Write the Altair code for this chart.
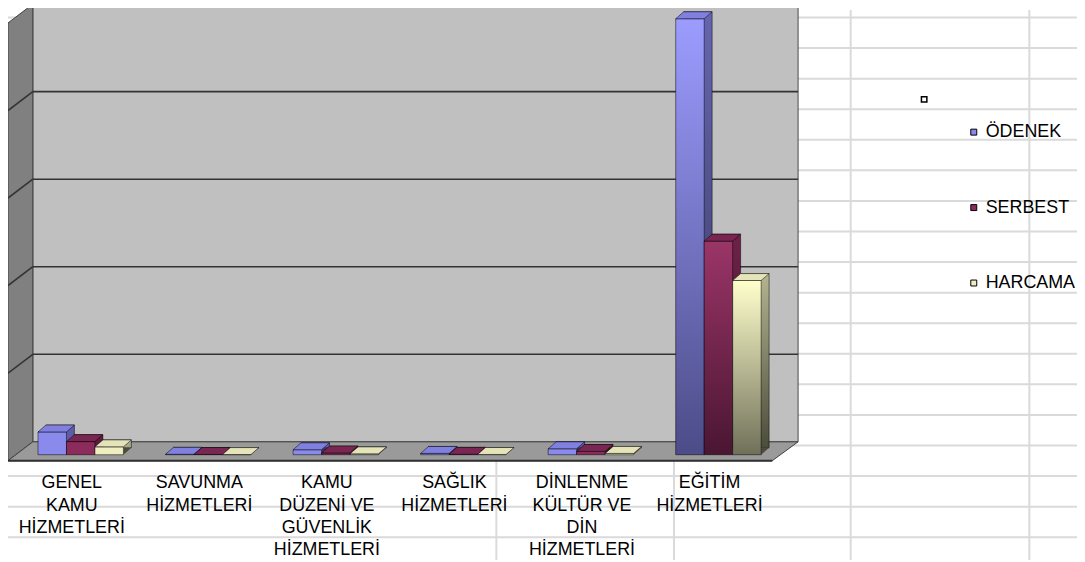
import altair as alt
import pandas as pd

# ---------------- data ----------------
categories = [
    "GENEL KAMU HİZMETLERİ",
    "SAVUNMA HİZMETLERİ",
    "KAMU DÜZENİ VE GÜVENLİK HİZMETLERİ",
    "SAĞLIK HİZMETLERİ",
    "DİNLENME KÜLTÜR VE DİN HİZMETLERİ",
    "EĞİTİM HİZMETLERİ",
]
tick_labels = [
    "GENEL\nKAMU\nHİZMETLERİ",
    "SAVUNMA\nHİZMETLERİ",
    "KAMU\nDÜZENİ VE\nGÜVENLİK\nHİZMETLERİ",
    "SAĞLIK\nHİZMETLERİ",
    "DİNLENME\nKÜLTÜR VE\nDİN\nHİZMETLERİ",
    "EĞİTİM\nHİZMETLERİ",
]
series = ["ÖDENEK", "SERBEST", "HARCAMA"]
odenek = [2.6, 0.05, 0.57, 0.15, 0.68, 49.8]
serbest = [1.5, 0.03, 0.2, 0.05, 0.38, 24.4]
harcama = [0.9, 0.02, 0.1, 0.03, 0.15, 19.9]
wall_gridlines = [10, 20, 30, 40]
y_max = 50
tall_threshold = 10

# ---------------- geometry / style ----------------
W, H = 1077, 554
BACK_L, BACK_R = 25, 796
FRONT_L, FRONT_R = 0, 770
Y_BASE, Y_TOP = 435, -6
DEPTH_Y = 19
BAR_DX, BAR_DY = 8, 7
BAR_SHIFT_X, BAR_SHIFT_Y = -16, 13
LABEL_SHIFT = -25
OUTER_PAD = 0.739
FONT = "Liberation Sans"

n_cat, n_ser = len(categories), len(series)
band = (BACK_R - BACK_L) / n_cat
slot = 1.0 / (n_ser + 2 * OUTER_PAD)          # bar width in category units
bw = band * slot                               # bar width in pixels
S = 20.0
hw = bw / 2
top_path = (f"M{-hw/S:.4f} 0 L{hw/S:.4f} 0 L{(hw+BAR_DX)/S:.4f} {-BAR_DY/S:.4f} "
            f"L{(-hw+BAR_DX)/S:.4f} {-BAR_DY/S:.4f} Z")
tri_path = f"M{hw/S:.4f} {-BAR_DY/S:.4f} L{hw/S:.4f} 0 L{(hw+BAR_DX)/S:.4f} {-BAR_DY/S:.4f} Z"
SYM_SIZE = (2 * S) ** 2

front_solid = {"ÖDENEK": "#8A8AEC", "SERBEST": "#8C2C5C", "HARCAMA": "#EEEEC0"}
front_grad = {"ÖDENEK": ["#9C9CFF", "#4C4C88"], "SERBEST": ["#9B3568", "#4A1632"],
              "HARCAMA": ["#FFFFCC", "#70705A"]}
side_solid = {"ÖDENEK": "#5C5CA8", "SERBEST": "#5E1A3C", "HARCAMA": "#A8A88A"}
side_grad = {"ÖDENEK": ["#6666B0", "#363660"], "SERBEST": ["#6E2248", "#361024"],
             "HARCAMA": ["#B4B490", "#4C4C3C"]}
top_col = {"ÖDENEK": "#8080E0", "SERBEST": "#7A2652", "HARCAMA": "#E4E4B8"}

rows = []
for j, (s, vals) in enumerate(zip(series, [odenek, serbest, harcama])):
    for i, (c, v) in enumerate(zip(categories, vals)):
        xl = i + (OUTER_PAD + j) * slot
        rows.append({"cat": c, "series": s, "value": v, "zero": 0,
                     "xl": xl, "xr": xl + slot, "xc": xl + slot / 2})
df = pd.DataFrame(rows)
labels_df = pd.DataFrame({"cat": categories, "label": tick_labels,
                          "xc": [i + 0.5 for i in range(n_cat)]})

x_scale = alt.Scale(domain=[0, n_cat], range=[BACK_L, BACK_R], nice=False, zero=False)
y_scale = alt.Scale(domain=[0, y_max], range=[Y_BASE, Y_TOP], nice=False, zero=True)


def grad(cols):
    return alt.Gradient(gradient="linear", x1=0, x2=0, y1=0, y2=1,
                        stops=[alt.GradientStop(color=cols[0], offset=0),
                               alt.GradientStop(color=cols[1], offset=1)])


def bar_enc(**extra):
    return dict(x=alt.X("xl:Q", scale=x_scale, axis=None), x2="xr:Q",
                y=alt.Y("value:Q", scale=y_scale, axis=None), y2="zero:Q", **extra)


def offs(dx, dy):
    return dict(xOffset=dx, x2Offset=dx, yOffset=dy, y2Offset=dy)


layers = []

# spreadsheet cell grid (background)
ROW0, ROW_H = 7.5, 30.8
grid_rows = pd.DataFrame({"py": [ROW0 + ROW_H * k for k in range(18)]})
grid_cols = pd.DataFrame({"px": [492, 671, 849, 1029]})
layers.append(alt.Chart(grid_rows).mark_rule(color="#DADADA", strokeWidth=2).encode(
    y=alt.Y("py:Q", scale=None, axis=None), x=alt.value(0), x2=alt.value(W)))
layers.append(alt.Chart(grid_cols).mark_rule(color="#DADADA", strokeWidth=2).encode(
    x=alt.X("px:Q", scale=None, axis=None), y=alt.value(0), y2=alt.value(H)))

# back wall
wall_df = pd.DataFrame({"top": [y_max], "base": [0]})
layers.append(alt.Chart(wall_df).mark_rect(fill="#C0C0C0", stroke="#4A4A4A", strokeWidth=1).encode(
    x=alt.value(BACK_L), x2=alt.value(BACK_R),
    y=alt.Y("top:Q", scale=y_scale, axis=None), y2="base:Q"))

# left side wall
side_df = pd.DataFrame({"px": [FRONT_L, BACK_L],
                        "pt": [Y_TOP + DEPTH_Y, Y_TOP],
                        "pb": [Y_BASE + DEPTH_Y, Y_BASE]})
layers.append(alt.Chart(side_df).mark_area(orient="vertical", fill="#808080", stroke="#404040",
                                           strokeWidth=1, opacity=1).encode(
    x=alt.X("px:Q", scale=None, axis=None), y=alt.Y("pt:Q", scale=None, axis=None), y2="pb:Q"))

# wall gridlines
gl_df = pd.DataFrame({"g": wall_gridlines})
layers.append(alt.Chart(gl_df).mark_rule(color="#333333", strokeWidth=1.6).encode(
    y=alt.Y("g:Q", scale=y_scale, axis=None), x=alt.value(BACK_L), x2=alt.value(BACK_R)))
layers.append(alt.Chart(gl_df).mark_rule(color="#333333", strokeWidth=1.6,
                                         yOffset=DEPTH_Y, y2Offset=0).encode(
    y=alt.Y("g:Q", scale=y_scale, axis=None), y2="g:Q",
    x=alt.value(FRONT_L), x2=alt.value(BACK_L)))

# floor
floor_df = pd.DataFrame({"py": [Y_BASE, Y_BASE + DEPTH_Y],
                         "pl": [BACK_L, FRONT_L], "pr": [BACK_R, FRONT_R]})
layers.append(alt.Chart(floor_df).mark_area(orient="horizontal", fill="#9A9A9A", stroke="#404040",
                                            strokeWidth=1, opacity=1).encode(
    y=alt.Y("py:Q", scale=None, axis=None), x=alt.X("pl:Q", scale=None, axis=None), x2="pr:Q"))
layers.append(alt.Chart(wall_df).mark_rule(color="#303030", strokeWidth=2, yOffset=DEPTH_Y).encode(
    y=alt.Y("base:Q", scale=y_scale, axis=None), x=alt.value(FRONT_L), x2=alt.value(FRONT_R)))

base = alt.Chart(df)

# side faces (drawn as a shifted box behind the front face)
for s in series:
    layers.append(base.transform_filter(
        (alt.datum.series == s) & (alt.datum.value < tall_threshold)).mark_bar(
        fill=side_solid[s], stroke="black", strokeWidth=0.5,
        **offs(BAR_SHIFT_X + BAR_DX, BAR_SHIFT_Y - BAR_DY)).encode(**bar_enc()))
    layers.append(base.transform_filter(
        (alt.datum.series == s) & (alt.datum.value >= tall_threshold)).mark_bar(
        fill=grad(side_grad[s]), stroke="black", strokeWidth=0.5,
        **offs(BAR_SHIFT_X + BAR_DX, BAR_SHIFT_Y - BAR_DY)).encode(**bar_enc()))
    # bottom triangle of the side face
    layers.append(base.transform_filter(alt.datum.series == s).mark_point(
        shape=tri_path, size=SYM_SIZE, filled=True, fill=side_grad[s][1], strokeWidth=0,
        opacity=1, xOffset=BAR_SHIFT_X, yOffset=BAR_SHIFT_Y).encode(
        x=alt.X("xc:Q", scale=x_scale, axis=None),
        y=alt.Y("zero:Q", scale=y_scale, axis=None)))

# front faces (short bars carry the legend)
layers.append(base.transform_filter(alt.datum.value < tall_threshold).mark_bar(
    stroke="black", strokeWidth=0.5, opacity=1,
    **offs(BAR_SHIFT_X, BAR_SHIFT_Y)).encode(**bar_enc(
        color=alt.Color("series:N", sort=series,
                        scale=alt.Scale(domain=series, range=[front_solid[s] for s in series]),
                        legend=alt.Legend(orient="none", legendX=964, legendY=114, title=None,
                                          symbolType="square", symbolSize=36,
                                          symbolStrokeColor="black", symbolStrokeWidth=1,
                                          labelFontSize=18, labelFont=FONT, labelColor="black",
                                          rowPadding=58, labelOffset=3, padding=0)))))
for s in series:
    layers.append(base.transform_filter(
        (alt.datum.series == s) & (alt.datum.value >= tall_threshold)).mark_bar(
        fill=grad(front_grad[s]), stroke="black", strokeWidth=0.5,
        **offs(BAR_SHIFT_X, BAR_SHIFT_Y)).encode(**bar_enc()))

# top faces
for s in series:
    layers.append(base.transform_filter(alt.datum.series == s).mark_point(
        shape=top_path, size=SYM_SIZE, filled=True, fill=top_col[s], stroke="black",
        strokeWidth=0.5, opacity=1, xOffset=BAR_SHIFT_X, yOffset=BAR_SHIFT_Y).encode(
        x=alt.X("xc:Q", scale=x_scale, axis=None),
        y=alt.Y("value:Q", scale=y_scale, axis=None)))

# category labels
layers.append(alt.Chart(labels_df).mark_text(
    align="center", baseline="alphabetic", fontSize=18, font=FONT, color="black",
    lineBreak="\n", lineHeight=22.5, xOffset=LABEL_SHIFT).encode(
    x=alt.X("xc:Q", scale=x_scale, axis=None), y=alt.value(482), text="label:N"))

# stray legend marker
stray = pd.DataFrame({"px": [923], "py": [90]})
layers.append(alt.Chart(stray).mark_square(size=30, fill="white", stroke="black",
                                           strokeWidth=1.5, opacity=1).encode(
    x=alt.X("px:Q", scale=None, axis=None), y=alt.Y("py:Q", scale=None, axis=None)))

chart = alt.layer(*layers).properties(
    width=W, height=H, padding=0, autosize="none"
).configure(font=FONT).configure_view(stroke=None)

chart.save("out.html", embed_options={"renderer": "svg", "actions": False})
